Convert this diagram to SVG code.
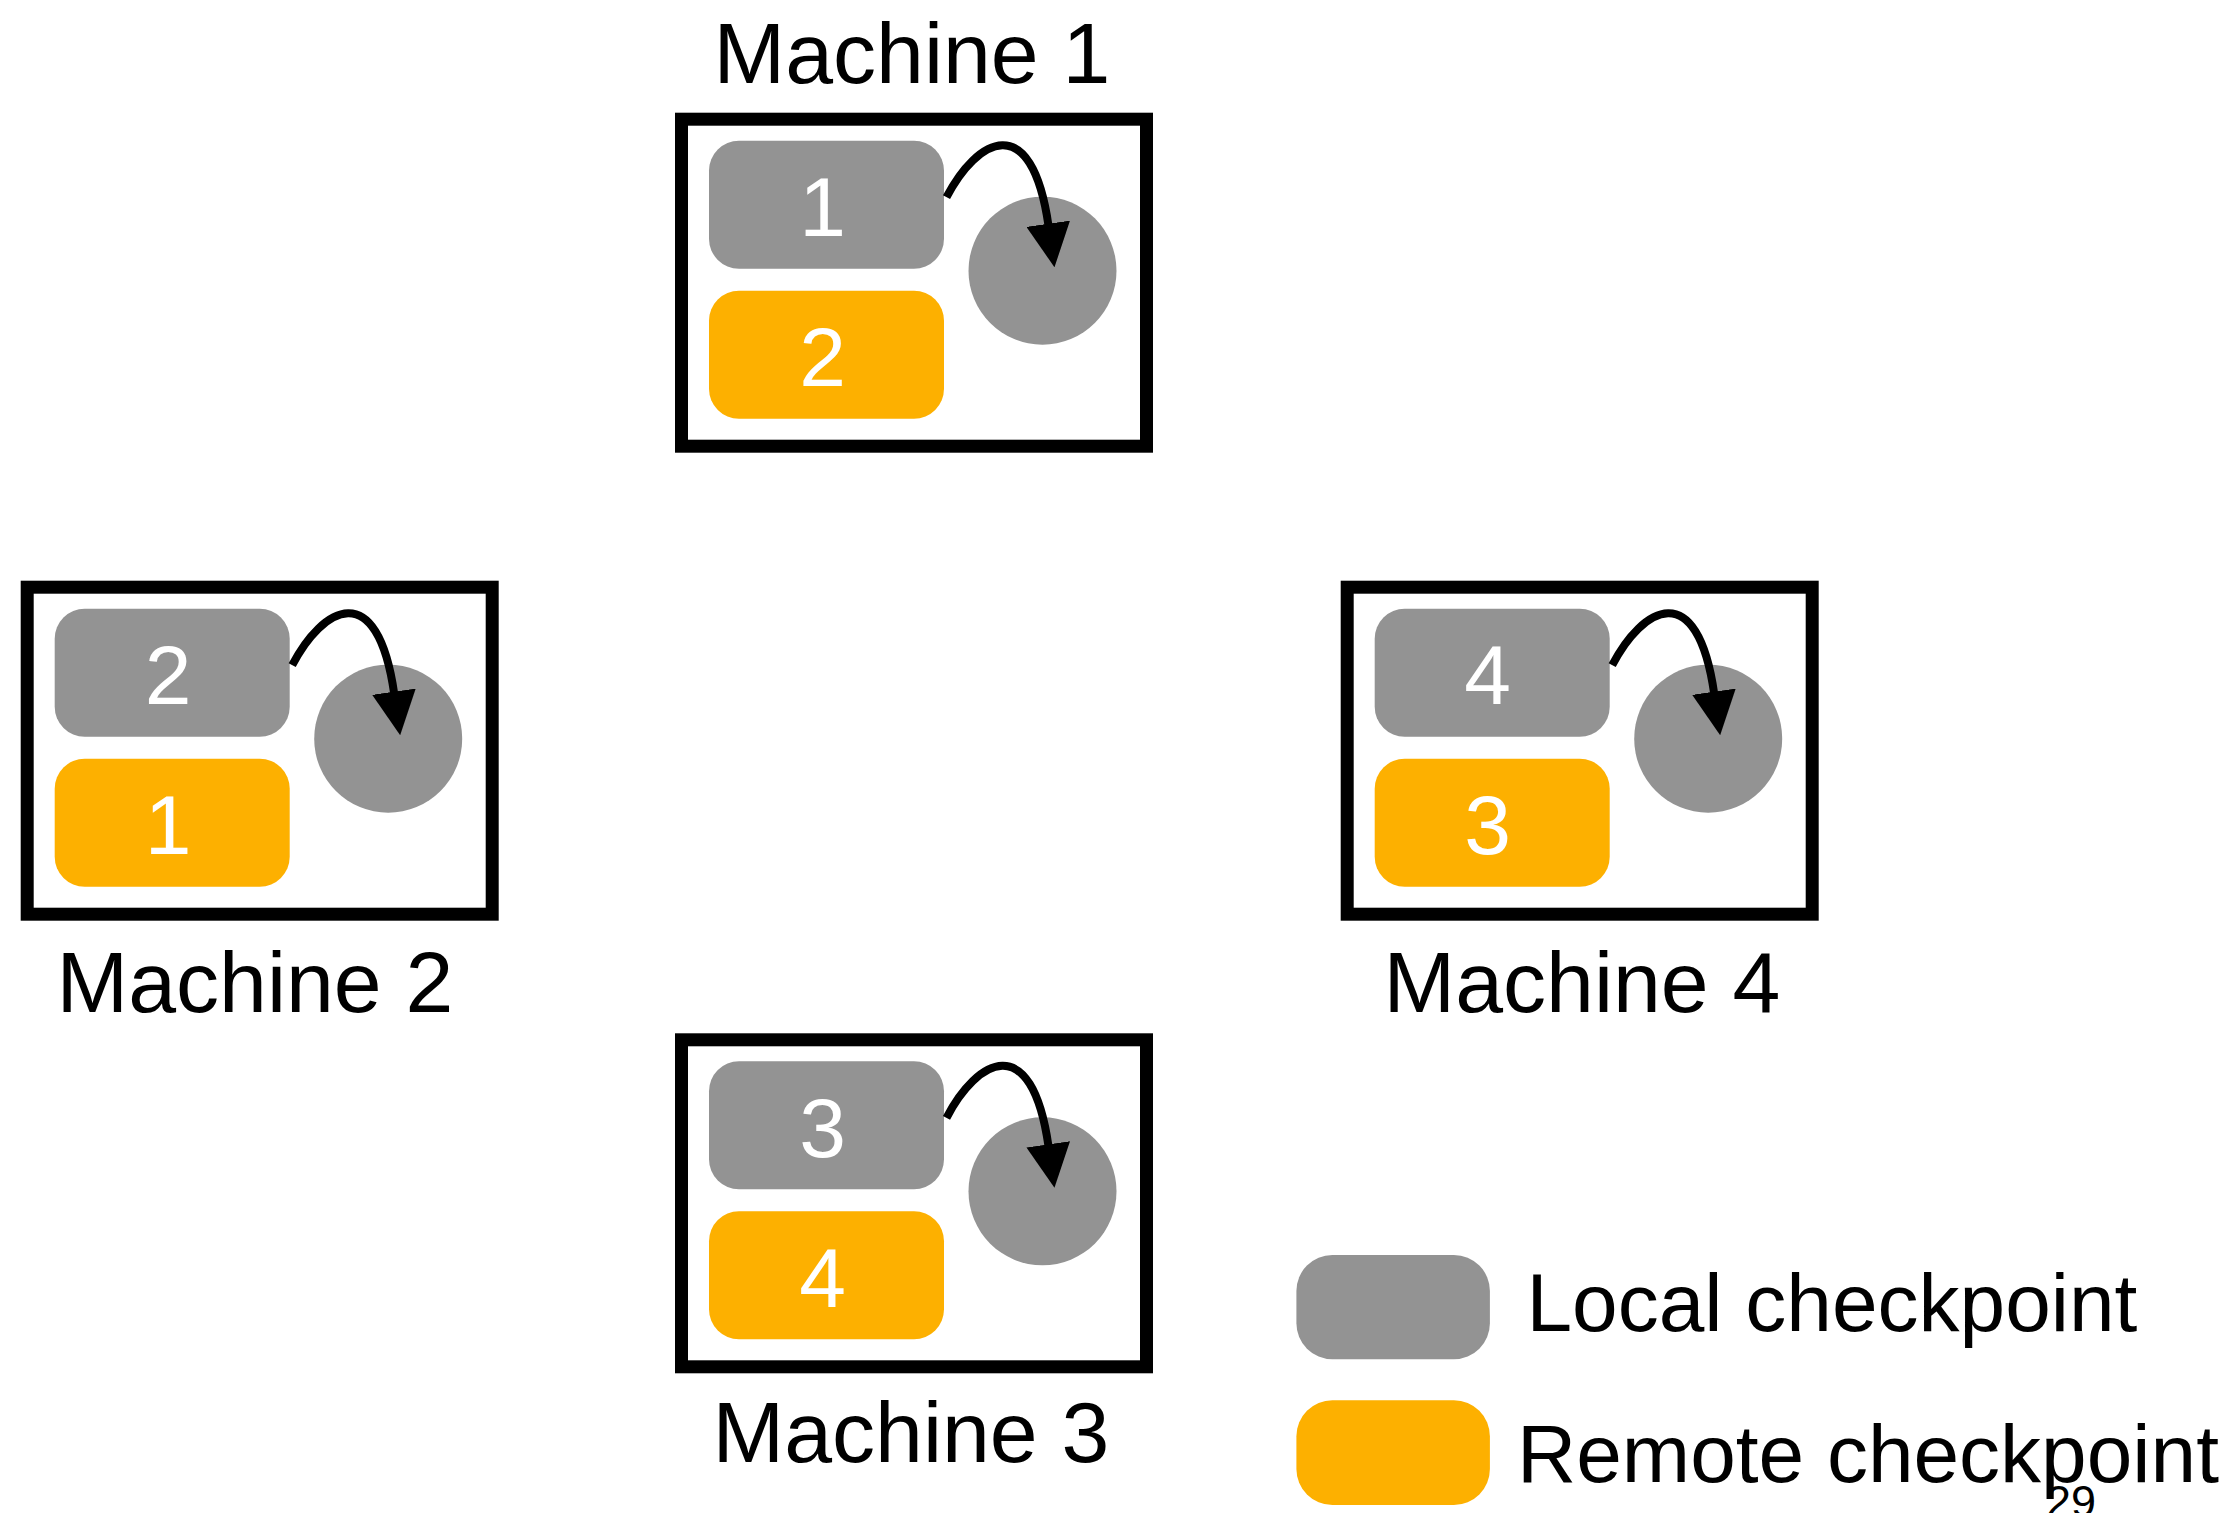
<svg xmlns="http://www.w3.org/2000/svg" width="2234" height="1513" viewBox="0 0 2234 1513">
  <style>
    .frame { fill: #ffffff; stroke: #000000; stroke-width: 13; }
    .local { fill: #939393; }
    .remote { fill: #FDB000; }
    .disk { fill: #939393; }
    .num { font-family: "Liberation Sans", Arial, Helvetica, sans-serif; font-size: 84px; fill: #ffffff; text-anchor: middle; }
    .title { font-family: "Liberation Sans", Arial, Helvetica, sans-serif; font-size: 86px; fill: #000000; text-anchor: middle; }
    .legend { font-family: "Liberation Sans", Arial, Helvetica, sans-serif; font-size: 82px; fill: #000000; }
    .page { font-family: "Liberation Sans", Arial, Helvetica, sans-serif; font-size: 45px; fill: #000000; }
    .save { fill: none; stroke: #000000; stroke-width: 8; marker-end: url(#head); }
  </style>
  <defs>
    <marker id="head" markerUnits="userSpaceOnUse" viewBox="0 0 44 44" markerWidth="44" markerHeight="44" refX="2" refY="22" orient="auto">
      <path d="M0,0 L44,22 L0,44 Z" fill="#000000"/>
    </marker>
  </defs>

  <rect width="2234" height="1513" fill="#ffffff"/>

  <!-- Machine 1 -->
  <g id="machine1" transform="translate(681.5,119.2)">
    <rect class="frame" x="0" y="0" width="465" height="327"/>
    <rect class="local" x="27.5" y="21.5" width="235" height="128" rx="30"/>
    <rect class="remote" x="27.5" y="171.5" width="235" height="128" rx="30"/>
    <circle class="disk" cx="361" cy="151.5" r="74"/>
    <text class="num" x="141" y="117">1</text>
    <text class="num" x="141" y="267">2</text>
  </g>
  <text id="label1" class="title" x="912" y="83">Machine 1</text>

  <!-- Machine 2 -->
  <g id="machine2" transform="translate(27.2,587.2)">
    <rect class="frame" x="0" y="0" width="465" height="327"/>
    <rect class="local" x="27.5" y="21.5" width="235" height="128" rx="30"/>
    <rect class="remote" x="27.5" y="171.5" width="235" height="128" rx="30"/>
    <circle class="disk" cx="361" cy="151.5" r="74"/>
    <text class="num" x="141" y="117">2</text>
    <text class="num" x="141" y="267">1</text>
  </g>
  <text id="label2" class="title" x="255" y="1012">Machine 2</text>

  <!-- Machine 4 -->
  <g id="machine4" transform="translate(1347.2,587.2)">
    <rect class="frame" x="0" y="0" width="465" height="327"/>
    <rect class="local" x="27.5" y="21.5" width="235" height="128" rx="30"/>
    <rect class="remote" x="27.5" y="171.5" width="235" height="128" rx="30"/>
    <circle class="disk" cx="361" cy="151.5" r="74"/>
    <text class="num" x="140.5" y="117">4</text>
    <text class="num" x="140.5" y="267">3</text>
  </g>
  <text id="label4" class="title" x="1582" y="1012">Machine 4</text>

  <!-- Machine 3 -->
  <g id="machine3" transform="translate(681.5,1039.8)">
    <rect class="frame" x="0" y="0" width="465" height="327"/>
    <rect class="local" x="27.5" y="21.5" width="235" height="128" rx="30"/>
    <rect class="remote" x="27.5" y="171.5" width="235" height="128" rx="30"/>
    <circle class="disk" cx="361" cy="151.5" r="74"/>
    <text class="num" x="141" y="117">3</text>
    <text class="num" x="141" y="267">4</text>
  </g>
  <text id="label3" class="title" x="911" y="1462">Machine 3</text>

  <!-- Save-to-disk arrows, one per machine -->
  <g id="connectors">
    <path class="save" transform="translate(681.5,119.2)" d="M265,78 C295,20 350,-12 367,106.5"/>
    <path class="save" transform="translate(27.2,587.2)" d="M265,78 C295,20 350,-12 367,106.5"/>
    <path class="save" transform="translate(1347.2,587.2)" d="M265,78 C295,20 350,-12 367,106.5"/>
    <path class="save" transform="translate(681.5,1039.8)" d="M265,78 C295,20 350,-12 367,106.5"/>
  </g>

  <!-- Legend -->
  <g id="legend">
    <rect class="local" x="1296.4" y="1255" width="193.5" height="104.3" rx="36"/>
    <text class="legend" x="1526.5" y="1331">Local checkpoint</text>
    <rect class="remote" x="1296.4" y="1400.3" width="193.5" height="104.7" rx="36"/>
    <text class="legend" x="1517" y="1482">Remote checkpoint</text>
  </g>

  <text id="page-number" class="page" x="2046" y="1517">29</text>
</svg>
